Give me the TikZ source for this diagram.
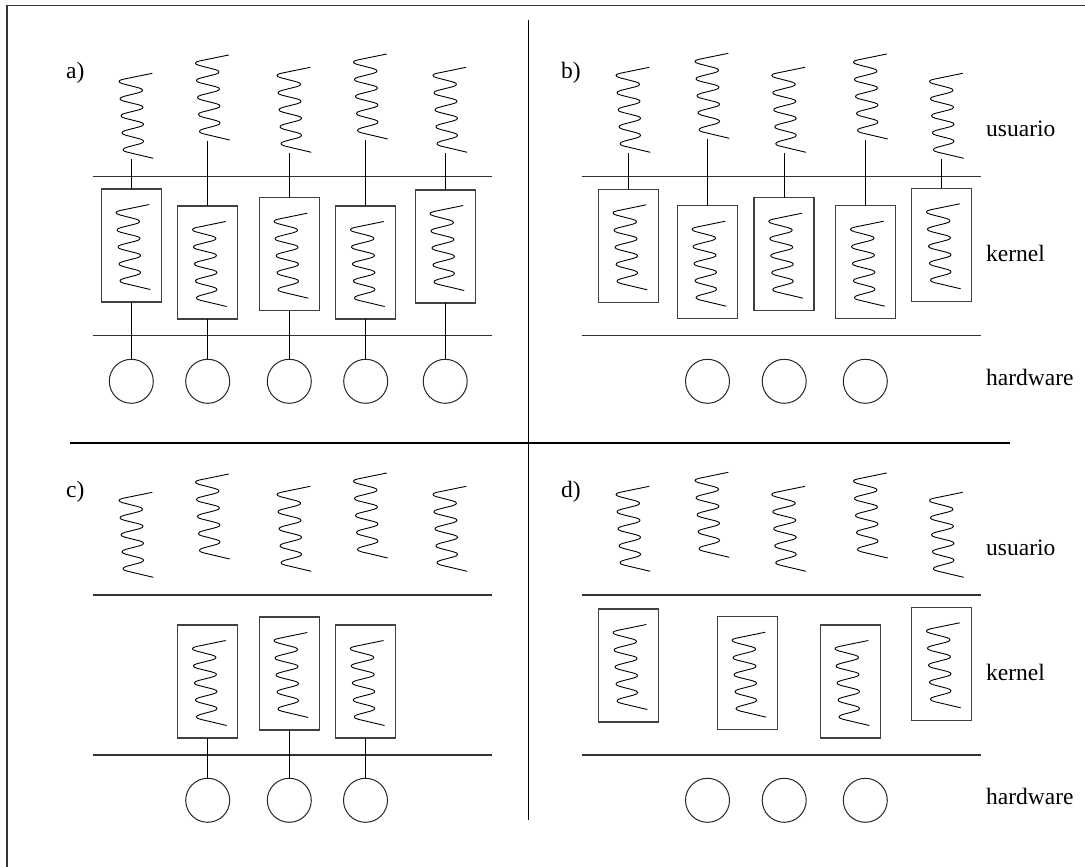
\documentclass[tikz,border=0pt]{standalone}
\usepackage{fontspec}
\setmainfont{Liberation Serif}
\begin{document}
\begin{tikzpicture}[x=1pt, y=-1pt,
  springline/.style={line width=0.9pt, rounded corners=10pt, line join=round},
  spring/.pic={\draw[springline] (0,0) -- (-39,8) -- (-4,17) -- (-38,25.5) -- (-3.5,34)
      -- (-37,42.5) -- (-3,51) -- (-36,59.5) -- (-3,68) -- (-35,76.5) -- (1,85);},
  proc/.style={draw=black!75, line width=1.1pt, minimum width=60pt, minimum height=113pt,
      inner sep=0pt, outer sep=0pt},
  cpu/.style={circle, draw=black!85, line width=1pt, minimum size=44pt, inner sep=0pt, outer sep=0pt},
  layer/.style={draw=black!80, line width=1.1pt},
  link/.style={line width=1pt},
  divider/.style={line width=1.4pt},
  lbl/.style={font=\fontsize{23.5}{28}\selectfont, inner sep=0pt, anchor=base west}]

\useasboundingbox (0,0) rectangle (1085,867);

% frame
\draw[line width=1.4pt, draw=black!80] (7,867) -- (7,5.5) -- (1085,5.5);

% quadrant dividers
\draw[divider] (528.5,20) -- (528.5,820);
\draw[divider] (70,443) -- (1010,443);

% panel labels
\node[lbl] (la) at (66,78.5) {a)};
\node[lbl] (lb) at (561,78.5) {b)};
\node[lbl] (lc) at (66,497.5) {c)};
\node[lbl] (ld) at (561,497.5) {d)};

% layer names
\node[lbl] (u1) at (986,136.7) {usuario};
\node[lbl] (k1) at (986,261.7) {kernel};
\node[lbl] (h1) at (986,385) {hardware};
\node[lbl] (u2) at (986,555.7) {usuario};
\node[lbl] (k2) at (986,680.7) {kernel};
\node[lbl] (h2) at (986,804) {hardware};

% layer boundaries
\draw[layer] (93,176.7) -- (492,176.7);
\draw[layer] (93,335.7) -- (492,335.7);
\draw[layer] (582,176.7) -- (981,176.7);
\draw[layer] (582,335.7) -- (981,335.7);
\draw[layer] (93,595) -- (492,595);
\draw[layer] (93,755) -- (492,755);
\draw[layer] (582,595) -- (981,595);
\draw[layer] (582,755) -- (981,755);

% a) one kernel thread per user thread, one processor each
\foreach \i/\x/\t/\st in {1/131.3/189/73.3, 2/207.7/206/55, 3/289.3/197.7/67.3,
                          4/365.7/206/54, 5/445.2/190/67.3} {
  \node[proc] (a\i) at (\x,\t+56.5) {};
  \pic at (\x+18,\t+15.5) {spring};
  \pic at (\x+21,\st) {spring};
  \coordinate (as\i) at (\x,\st+86);
  \draw[link] (as\i) -- (a\i.north);
  \node[cpu] (ca\i) at (\x,381.3) {};
  \draw[link] (a\i.south) -- (ca\i.north);
}

% b) one kernel thread per user thread, shared processors
\foreach \i/\x/\t/\st in {1/628.3/189.3/67.3, 2/707.3/205.7/53.3, 3/784/197.7/67.3,
                          4/865.7/205.7/54, 5/941.7/188.3/73.3} {
  \node[proc] (b\i) at (\x,\t+56.5) {};
  \pic at (\x+18,\t+15.5) {spring};
  \pic at (\x+21,\st) {spring};
  \coordinate (bs\i) at (\x,\st+86);
  \draw[link] (bs\i) -- (b\i.north);
}
\foreach \i/\x in {1/707.5, 2/784.2, 3/865.3}
  \node[cpu] (cb\i) at (\x,381.3) {};

% c) user threads only, kernel threads bound to processors
\foreach \x/\st in {131.3/492.3, 207.7/474, 289.3/486.3, 365.7/473, 445.2/486.3}
  \pic at (\x+21,\st) {spring};
\foreach \i/\x/\t in {1/207.7/625, 2/289.3/617, 3/365.5/625} {
  \node[proc] (c\i) at (\x,\t+56.5) {};
  \pic at (\x+18,\t+15.5) {spring};
  \node[cpu] (cc\i) at (\x,800.3) {};
  \draw[link] (c\i.south) -- (cc\i.north);
}

% d) independent user and kernel threads
\foreach \x/\st in {628.3/486.3, 707.3/472.3, 784/486.3, 865.7/473, 941.7/492.3}
  \pic at (\x+21,\st) {spring};
\foreach \i/\x/\t in {1/628.3/609, 2/747.3/616.7, 3/850.3/625, 4/941.7/607.3} {
  \node[proc] (d\i) at (\x,\t+56.5) {};
  \pic at (\x+18,\t+15.5) {spring};
}
\foreach \i/\x in {1/707.5, 2/784.2, 3/865.3}
  \node[cpu] (cd\i) at (\x,800.3) {};

\end{tikzpicture}
\end{document}
